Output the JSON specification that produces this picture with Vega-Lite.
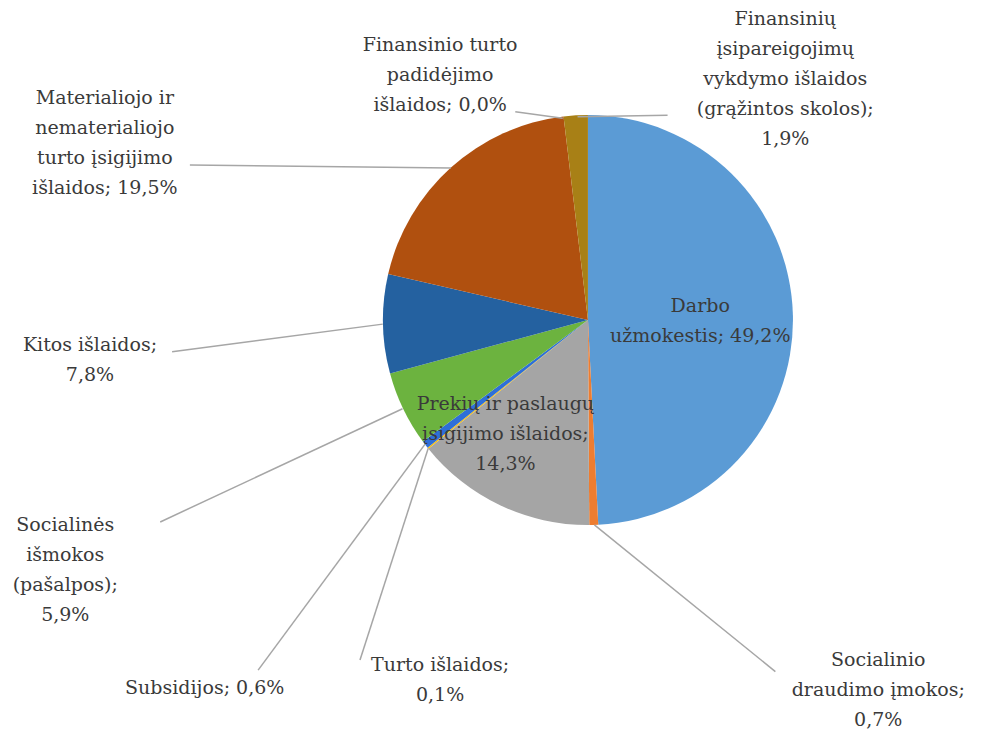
{
  "$schema": "https://vega.github.io/schema/vega-lite/v6.json",
  "width": 989,
  "height": 730,
  "autosize": {"type": "none"},
  "padding": 0,
  "background": "white",
  "config": {"view": {"stroke": null}},
  "datasets": {
    "slices": [
      {"order": 1, "name": "Darbo užmokestis", "share": 49.2},
      {"order": 2, "name": "Socialinio draudimo įmokos", "share": 0.7},
      {"order": 3, "name": "Prekių ir paslaugų įsigijimo išlaidos", "share": 14.3},
      {"order": 4, "name": "Turto išlaidos", "share": 0.1},
      {"order": 5, "name": "Subsidijos", "share": 0.6},
      {"order": 6, "name": "Socialinės išmokos (pašalpos)", "share": 5.9},
      {"order": 7, "name": "Kitos išlaidos", "share": 7.8},
      {"order": 8, "name": "Materialiojo ir nematerialiojo turto įsigijimo išlaidos", "share": 19.5},
      {"order": 9, "name": "Finansinio turto padidėjimo išlaidos", "share": 0.0},
      {"order": 10, "name": "Finansinių įsipareigojimų vykdymo išlaidos (grąžintos skolos)", "share": 1.9}
    ],
    "labels": [
      {"text": ["Materialiojo ir", "nematerialiojo", "turto įsigijimo", "išlaidos; 19,5%"], "lx": 10.6, "ly": 13.4},
      {"text": ["Finansinio turto", "padidėjimo", "išlaidos; 0,0%"], "lx": 44.5, "ly": 6.2},
      {"text": ["Finansinių", "įsipareigojimų", "vykdymo išlaidos", "(grąžintos skolos);", "1,9%"], "lx": 79.4, "ly": 2.6},
      {"text": ["Darbo", "užmokestis; 49,2%"], "lx": 70.8, "ly": 41.9},
      {"text": ["Kitos išlaidos;", "7,8%"], "lx": 9.1, "ly": 47.3},
      {"text": ["Prekių ir paslaugų", "įsigijimo išlaidos;", "14,3%"], "lx": 51.1, "ly": 55.3},
      {"text": ["Socialinės", "išmokos", "(pašalpos);", "5,9%"], "lx": 6.6, "ly": 71.9},
      {"text": ["Subsidijos; 0,6%"], "lx": 20.7, "ly": 94.2},
      {"text": ["Turto išlaidos;", "0,1%"], "lx": 44.5, "ly": 91.1},
      {"text": ["Socialinio", "draudimo įmokos;", "0,7%"], "lx": 88.8, "ly": 90.4}
    ],
    "leaders": [
      {"id": "M", "step": 0, "lx": 19.2, "ly": 22.6}, {"id": "M", "step": 1, "lx": 45.6, "ly": 23.0},
      {"id": "FT", "step": 0, "lx": 52.1, "ly": 15.3}, {"id": "FT", "step": 1, "lx": 56.9, "ly": 16.2},
      {"id": "FI", "step": 0, "lx": 67.5, "ly": 15.8}, {"id": "FI", "step": 1, "lx": 58.4, "ly": 16.0},
      {"id": "K", "step": 0, "lx": 17.4, "ly": 48.2}, {"id": "K", "step": 1, "lx": 38.7, "ly": 44.4},
      {"id": "S", "step": 0, "lx": 16.2, "ly": 71.5}, {"id": "S", "step": 1, "lx": 40.7, "ly": 56.0},
      {"id": "Sub", "step": 0, "lx": 26.1, "ly": 91.8}, {"id": "Sub", "step": 1, "lx": 43.0, "ly": 60.8},
      {"id": "T", "step": 0, "lx": 36.4, "ly": 90.4}, {"id": "T", "step": 1, "lx": 43.3, "ly": 61.4},
      {"id": "SD", "step": 0, "lx": 78.4, "ly": 92.0}, {"id": "SD", "step": 1, "lx": 60.1, "ly": 71.9}
    ]
  },
  "layer": [
    {
      "data": {"name": "slices"},
      "mark": {"type": "arc", "outerRadius": 205, "stroke": null},
      "encoding": {
        "theta": {"field": "share", "type": "quantitative", "stack": true},
        "order": {"field": "order", "type": "quantitative"},
        "x": {"datum": 59.45, "type": "quantitative", "scale": {"domain": [0, 100], "nice": false, "zero": false}, "axis": null},
        "y": {"datum": 43.84, "type": "quantitative", "scale": {"domain": [0, 100], "nice": false, "zero": false, "reverse": true}, "axis": null},
        "color": {
          "field": "name",
          "type": "nominal",
          "legend": null,
          "scale": {
            "domain": [
              "Darbo užmokestis",
              "Socialinio draudimo įmokos",
              "Prekių ir paslaugų įsigijimo išlaidos",
              "Turto išlaidos",
              "Subsidijos",
              "Socialinės išmokos (pašalpos)",
              "Kitos išlaidos",
              "Materialiojo ir nematerialiojo turto įsigijimo išlaidos",
              "Finansinio turto padidėjimo išlaidos",
              "Finansinių įsipareigojimų vykdymo išlaidos (grąžintos skolos)"
            ],
            "range": ["#5B9BD5", "#ED7D31", "#A5A5A5", "#FFC000", "#2E6FD8", "#6CB33F", "#2461A0", "#B0500F", "#636363", "#A88016"]
          }
        }
      }
    },
    {
      "data": {"name": "leaders"},
      "mark": {"type": "line", "color": "#A6A6A6", "strokeWidth": 1.5},
      "encoding": {
        "x": {"field": "lx", "type": "quantitative", "scale": {"domain": [0, 100], "nice": false, "zero": false}, "axis": null},
        "y": {"field": "ly", "type": "quantitative", "scale": {"domain": [0, 100], "nice": false, "zero": false, "reverse": true}, "axis": null},
        "detail": {"field": "id"},
        "order": {"field": "step"}
      }
    },
    {
      "data": {"name": "labels"},
      "mark": {"type": "text", "font": "DejaVu Serif", "fontSize": 19, "lineHeight": 30, "align": "center", "baseline": "middle", "color": "#3A3A3A"},
      "encoding": {
        "x": {"field": "lx", "type": "quantitative", "scale": {"domain": [0, 100], "nice": false, "zero": false}, "axis": null},
        "y": {"field": "ly", "type": "quantitative", "scale": {"domain": [0, 100], "nice": false, "zero": false, "reverse": true}, "axis": null},
        "text": {"field": "text"}
      }
    }
  ]
}
